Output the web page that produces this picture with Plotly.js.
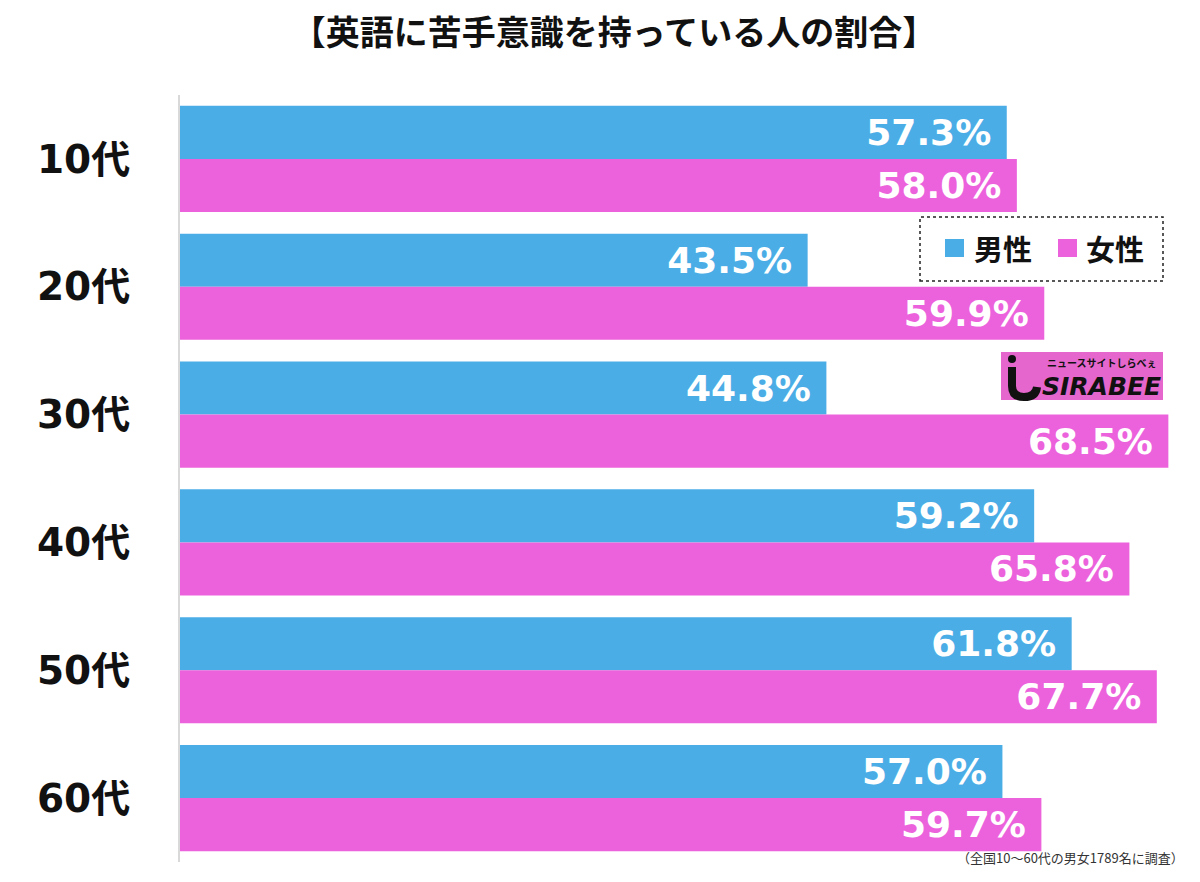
<!DOCTYPE html>
<html>
<head>
<meta charset="utf-8">
<script src="https://cdn.plot.ly/plotly-3.0.1.min.js"></script>
<style>html,body{margin:0;padding:0;background:#fff;}#chart{width:1200px;height:882px;}</style>
</head>
<body>
<div id="chart"></div>
<script>
// ---- data ----
const categories = ["10代", "20代", "30代", "40代", "50代", "60代"];
const seriesNames = ["男性", "女性"];
const maleValues = [57.3, 43.5, 44.8, 59.2, 61.8, 57.0];
const femaleValues = [58.0, 59.9, 68.5, 65.8, 67.7, 59.7];
const titleText = "【英語に苦手意識を持っている人の割合】";
const noteText = "（全国10〜60代の男女1789名に調査）";

// ---- style ----
const BLUE = "#4badE6";
const PINK = "#ec62dc";
const W = 1200, H = 882;
const M = {l: 180, r: 10, t: 95, b: 20};
const PW = W - M.l - M.r, PH = H - M.t - M.b;
const px = x => (x - M.l) / PW;
const py = y => (H - M.b - y) / PH;

const labelFont = {family: "DejaVu Sans, Noto Sans CJK JP", size: 36, color: "#ffffff", weight: "bold"};

function barTrace(name, values, color) {
  return {
    type: "bar", orientation: "h", name: name,
    x: values, y: categories,
    marker: {color: color},
    text: values.map(v => v.toFixed(1) + "%\u00a0"),
    textposition: "inside", insidetextanchor: "end",
    textangle: 0, textfont: labelFont, constraintext: "none",
    hoverinfo: "skip", showlegend: false
  };
}

const traces = [
  barTrace(seriesNames[0], maleValues, BLUE),
  barTrace(seriesNames[1], femaleValues, PINK)
];

const shapes = [
  // legend box (dotted)
  {type: "rect", xref: "paper", yref: "paper", x0: px(920), x1: px(1163), y0: py(281), y1: py(217),
   line: {color: "#222", width: 1.5, dash: "dot"}, fillcolor: "rgba(255,255,255,1)"},
  {type: "rect", xref: "paper", yref: "paper", x0: px(945), x1: px(964), y0: py(257), y1: py(239),
   line: {width: 0}, fillcolor: BLUE},
  {type: "rect", xref: "paper", yref: "paper", x0: px(1058), x1: px(1077), y0: py(257), y1: py(239),
   line: {width: 0}, fillcolor: PINK},
  // watermark logo
  {type: "rect", xref: "paper", yref: "paper", x0: px(1001), x1: px(1163), y0: py(400), y1: py(352),
   line: {width: 0}, fillcolor: "#e566cc"},
  {type: "circle", xref: "paper", yref: "paper", x0: px(1008), x1: px(1016), y0: py(363), y1: py(355),
   line: {width: 0}, fillcolor: "#111"},
  {type: "path", xref: "paper", yref: "paper",
   path: "M " + px(1012) + " " + py(367) + " L " + px(1012) + " " + py(386) +
         " Q " + px(1012) + " " + py(397) + " " + px(1024) + " " + py(397) +
         " Q " + px(1036) + " " + py(397) + " " + px(1037) + " " + py(387),
   line: {color: "#111", width: 8}}
];

const annotations = [
  {xref: "paper", yref: "paper", x: px(972), y: py(248), xanchor: "left", yanchor: "middle",
   text: seriesNames[0], showarrow: false,
   font: {family: "Noto Sans CJK JP", size: 29, color: "#111", weight: "bold"}},
  {xref: "paper", yref: "paper", x: px(1084), y: py(248), xanchor: "left", yanchor: "middle",
   text: seriesNames[1], showarrow: false,
   font: {family: "Noto Sans CJK JP", size: 29, color: "#111", weight: "bold"}},
  {xref: "paper", yref: "paper", x: px(1101), y: py(386), xanchor: "center", yanchor: "middle",
   text: "<i>SIRABEE</i>", showarrow: false,
   font: {family: "DejaVu Sans", size: 25, color: "#111", weight: "bold"}},
  {xref: "paper", yref: "paper", x: px(1102), y: py(362), xanchor: "center", yanchor: "middle",
   text: "ニュースサイトしらべぇ", showarrow: false,
   font: {family: "Noto Sans CJK JP", size: 10, color: "#111", weight: "bold"}},
  {xref: "paper", yref: "paper", x: px(1186), y: py(857), xanchor: "right", yanchor: "middle",
   text: noteText, showarrow: false,
   font: {family: "Noto Sans CJK JP", size: 13, color: "#333"}}
];

const layout = {
  width: W, height: H,
  margin: M,
  paper_bgcolor: "#ffffff", plot_bgcolor: "#ffffff",
  barmode: "group", bargap: 0.17, bargroupgap: 0,
  showlegend: false,
  title: {text: titleText, xref: "container", yref: "container", x: 614 / W, y: 1 - 33 / H,
          xanchor: "center", yanchor: "middle",
          font: {family: "Noto Sans CJK JP", size: 34, color: "#111", weight: "bold"}},
  xaxis: {range: [0, 70], visible: false, showgrid: false, zeroline: false, fixedrange: true},
  yaxis: {type: "category", categoryorder: "array", categoryarray: categories,
          autorange: "reversed", showline: true, linecolor: "#d9d9d9", linewidth: 2,
          showgrid: false, zeroline: false, ticks: "", ticklabelstandoff: 40,
          tickfont: {family: "DejaVu Sans, Noto Sans CJK JP", size: 39, color: "#111", weight: "bold"}},
  shapes: shapes,
  annotations: annotations
};

Plotly.newPlot("chart", traces, layout, {staticPlot: true, displayModeBar: false});
</script>
</body>
</html>
